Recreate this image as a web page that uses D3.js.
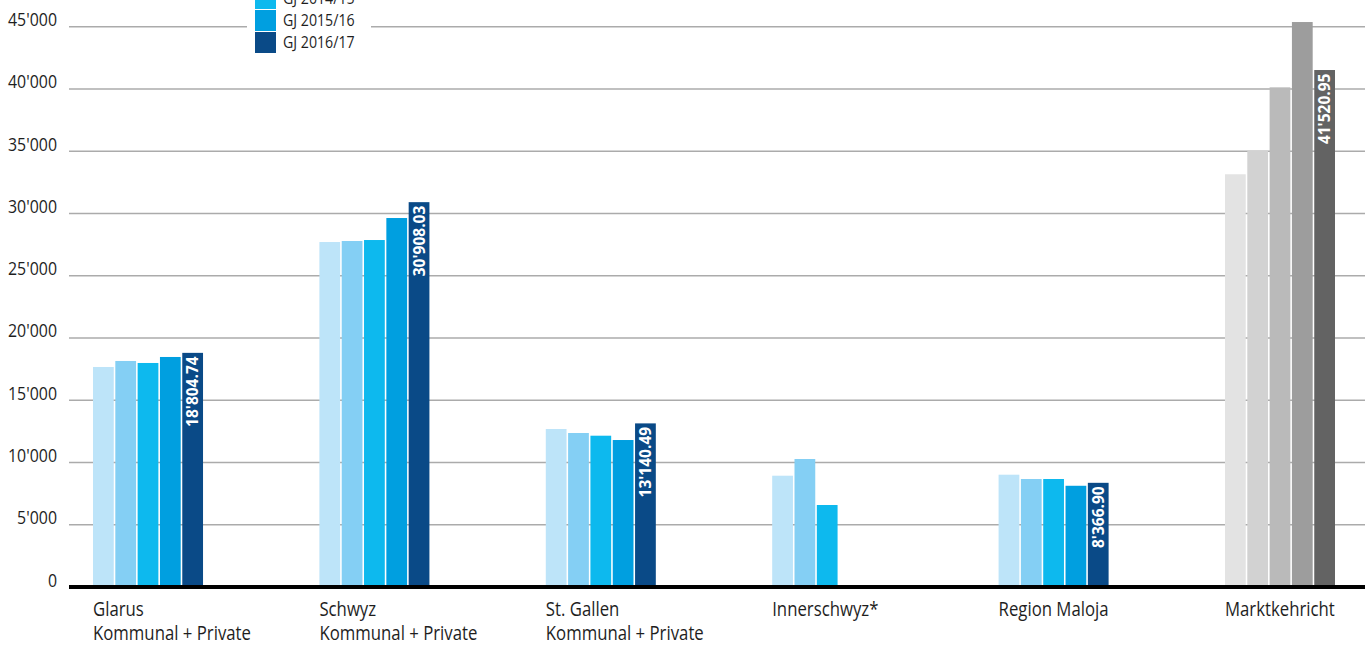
<!DOCTYPE html>
<html>
<head>
<meta charset="utf-8">
<script src="https://cdn.jsdelivr.net/npm/d3@7"></script>
<style>
  html, body { margin: 0; padding: 0; background: #fff; }
  svg { display: block; }
  text { font-family: "Open Sans", "Noto Sans", sans-serif; }
</style>
</head>
<body>
<svg id="chart" width="1371" height="646"></svg>
<script>
// Categories (each label is split over two lines where needed)
const categories = ["Glarus", "Schwyz", "St. Gallen", "Innerschwyz*", "Region Maloja", "Marktkehricht"];
const subLabels = ["Kommunal + Private", "Kommunal + Private", "Kommunal + Private", "", "", ""];

// Series (fiscal years)
const seriesNames = ["GJ 2012/13", "GJ 2013/14", "GJ 2014/15", "GJ 2015/16", "GJ 2016/17"];
const gj1213 = [17670, 27706, 12689, 8938, 9019, 33150];
const gj1314 = [18153, 27787, 12368, 10280, 8673, 35040];
const gj1415 = [17992, 27867, 12151, 6585, 8673, 40130];
const gj1516 = [18474, 29634, 11805, null, 8130, 45375];
const gj1617 = [18804.74, 30908.03, 13140.49, null, 8366.90, 41520.95];
const seriesValues = [gj1213, gj1314, gj1415, gj1516, gj1617];

// Y axis ticks
const yTicks = [0, 5000, 10000, 15000, 20000, 25000, 30000, 35000, 40000, 45000];

// Colour palettes: blue for regions, grey for the market waste group
const bluePalette = ["#bde4f9", "#84cff4", "#0db9ee", "#009fe0", "#0a4a87"];
const greyPalette = ["#e3e3e3", "#d2d2d2", "#bababa", "#9d9d9d", "#636363"];
const greyCategory = "Marktkehricht";

// Narrow letterforms: text is squeezed horizontally
const squeeze = 0.86;

const svg = d3.select("#chart");

const plotLeft = 69, plotRight = 1365;
const y = d3.scaleLinear().domain([0, 45000]).range([587, 26.7]);

const x0 = d3.scaleBand()
  .domain(categories)
  .range([93, 1335])
  .paddingInner(0.514)
  .paddingOuter(0)
  .align(0);

const x1 = d3.scaleBand()
  .domain(seriesNames)
  .range([0, x0.bandwidth()])
  .paddingInner(0.07)
  .paddingOuter(0);

const fmtThousands = v => d3.format(",")(v).replace(/,/g, "'");
const fmtValue = v => d3.format(",.2f")(v).replace(/,/g, "'");

// Horizontal grid lines
svg.append("g")
  .selectAll("line")
  .data(yTicks.filter(t => t > 0))
  .join("line")
  .attr("x1", plotLeft)
  .attr("x2", plotRight)
  .attr("y1", d => y(d))
  .attr("y2", d => y(d))
  .attr("stroke", "#ababab")
  .attr("stroke-width", 1.6);

// Y tick labels
svg.append("g")
  .selectAll("text")
  .data(yTicks)
  .join("text")
  .attr("transform", d => `translate(57,${y(d) - 0.5}) scale(${squeeze},1)`)
  .attr("text-anchor", "end")
  .attr("font-size", 18.5)
  .attr("fill", "#1e1e1e")
  .text(fmtThousands);

// Bars
const rows = [];
categories.forEach((c, ci) => {
  seriesNames.forEach((s, si) => {
    const v = seriesValues[si][ci];
    if (v != null) rows.push({ cat: c, series: s, si, value: v });
  });
});

const colorOf = d => (d.cat === greyCategory ? greyPalette : bluePalette)[d.si];

svg.append("g")
  .selectAll("rect")
  .data(rows)
  .join("rect")
  .attr("x", d => x0(d.cat) + x1(d.series))
  .attr("y", d => y(d.value))
  .attr("width", x1.bandwidth())
  .attr("height", d => y(0) - y(d.value))
  .attr("fill", colorOf);

// Value labels on the latest fiscal year
const latest = seriesNames[seriesNames.length - 1];
svg.append("g")
  .selectAll("text")
  .data(rows.filter(d => d.series === latest))
  .join("text")
  .attr("transform", d => {
    const cx = x0(d.cat) + x1(d.series) + x1.bandwidth() / 2;
    return `translate(${cx + 5.5},${y(d.value) + 3.5}) rotate(-90)`;
  })
  .attr("text-anchor", "end")
  .attr("font-size", 15.5)
  .attr("font-weight", "bold")
  .attr("fill", "#fff")
  .text(d => fmtValue(d.value));

// Baseline
svg.append("line")
  .attr("x1", plotLeft)
  .attr("x2", plotRight)
  .attr("y1", y(0))
  .attr("y2", y(0))
  .attr("stroke", "#000")
  .attr("stroke-width", 4);

// Category labels
const catLabels = svg.append("g")
  .selectAll("text")
  .data(categories.map((c, i) => ({ c, sub: subLabels[i] })))
  .join("text")
  .attr("transform", d => `translate(${x0(d.c)},616) scale(${squeeze},1)`)
  .attr("font-size", 19.5)
  .attr("fill", "#1e1e1e");
catLabels.append("tspan").attr("x", 0).text(d => d.c);
catLabels.append("tspan").attr("x", 0).attr("dy", 24).text(d => d.sub);

// Legend (white panel sits over the top grid line)
const legend = svg.append("g").attr("transform", "translate(255,0)");
legend.append("rect")
  .attr("x", -8).attr("y", 0).attr("width", 124).attr("height", 58)
  .attr("fill", "#fff");
const legendItems = legend.selectAll("g")
  .data(seriesNames)
  .join("g")
  .attr("transform", (d, i) => `translate(0,${32 - (seriesNames.length - 1 - i) * 22})`);
legendItems.append("rect")
  .attr("width", 21).attr("height", 21)
  .attr("fill", (d, i) => bluePalette[i]);
legendItems.append("text")
  .attr("transform", `translate(28,16) scale(${squeeze},1)`)
  .attr("font-size", 16.5)
  .attr("fill", "#1e1e1e")
  .text(d => d);
</script>
</body>
</html>
